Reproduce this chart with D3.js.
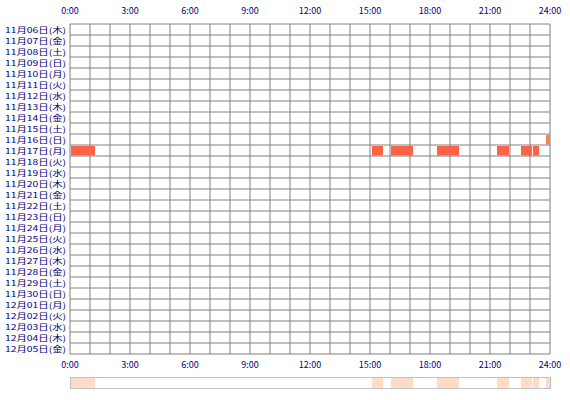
<!DOCTYPE html><html><head><meta charset="utf-8"><script src="https://cdn.jsdelivr.net/npm/d3@7"></script>
<style>body{margin:0;background:#fff}text{font-family:"Noto Sans CJK JP","DejaVu Sans",sans-serif;font-size:9px;fill:#000080}text.dl{font-size:8px}</style></head><body><svg id="c" width="570" height="400"></svg>
<script>
const days=["11月06日(木)","11月07日(金)","11月08日(土)","11月09日(日)","11月10日(月)","11月11日(火)","11月12日(水)","11月13日(木)","11月14日(金)","11月15日(土)","11月16日(日)","11月17日(月)","11月18日(火)","11月19日(水)","11月20日(木)","11月21日(金)","11月22日(土)","11月23日(日)","11月24日(月)","11月25日(火)","11月26日(水)","11月27日(木)","11月28日(金)","11月29日(土)","11月30日(日)","12月01日(月)","12月02日(火)","12月03日(水)","12月04日(木)","12月05日(金)"];
const tickHours=[0,3,6,9,12,15,18,21,24];
const tickLabels=["0:00","3:00","6:00","9:00","12:00","15:00","18:00","21:00","24:00"];
const sessionDay=["11月17日(月)","11月17日(月)","11月17日(月)","11月17日(月)","11月17日(月)","11月17日(月)","11月17日(月)","11月16日(日)"];
const sessionStart=[0.05,15.1,16.05,18.35,21.35,22.55,23.15,23.8];
const sessionEnd=[1.25,15.65,17.15,19.45,21.95,23.1,23.45,24];
const sessionColor=["#ff6347","#ff6347","#ff6347","#ff6347","#ff6347","#ff6347","#ff6347","#ff8050"];
const svg=d3.select("#c");
const x=d3.scaleLinear().domain([0,24]).range([70,550]);
const y=d3.scaleBand().domain(days).range([24,354]);
const g=svg.append("g");
g.selectAll(".v").data(d3.range(25)).join("line").attr("x1",d=>x(d)).attr("x2",d=>x(d)).attr("y1",24).attr("y2",354).attr("stroke","#808080");
g.selectAll(".h").data(d3.range(31)).join("line").attr("x1",70).attr("x2",550).attr("y1",d=>24+d*y.step()).attr("y2",d=>24+d*y.step()).attr("stroke","#808080");
svg.selectAll(".bar").data(sessionStart).join("rect").attr("x",(d,i)=>x(d)).attr("width",(d,i)=>x(sessionEnd[i])-x(d)).attr("y",(d,i)=>y(sessionDay[i])+1).attr("height",y.bandwidth()-1.5).attr("fill",(d,i)=>sessionColor[i]);
svg.selectAll(".dl").data(days).join("text").attr("class","dl").attr("x",66).attr("y",d=>y(d)+y.bandwidth()/2+3).attr("text-anchor","end").attr("textLength",61).attr("lengthAdjust","spacingAndGlyphs").text(d=>d);
[14,368].forEach(yy=>svg.selectAll(null).data(tickHours).join("text").attr("x",d=>x(d)).attr("y",yy).attr("text-anchor","middle").text((d,i)=>tickLabels[i]));
svg.append("rect").attr("x",70.5).attr("y",377.5).attr("width",480).attr("height",11).attr("fill","#fff").attr("stroke","#c0c0c0");
svg.selectAll(".s").data(sessionStart).join("rect").attr("x",d=>x(d)).attr("width",(d,i)=>x(sessionEnd[i])-x(d)).attr("y",378).attr("height",10).attr("fill","#ffdcc8");
</script></body></html>
